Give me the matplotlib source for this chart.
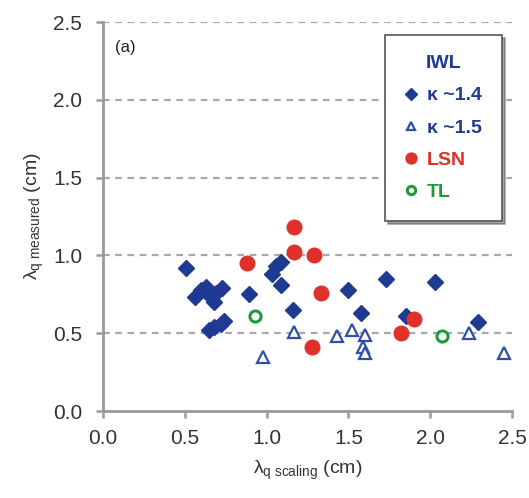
import numpy as np
import matplotlib.pyplot as plt

plt.rcParams['font.family'] = ['Liberation Sans', 'DejaVu Sans']
plt.rcParams['mathtext.fontset'] = 'custom'
plt.rcParams['mathtext.rm'] = 'Liberation Sans'
plt.rcParams['mathtext.it'] = 'Liberation Sans:italic'

# IWL, kappa ~1.4
k14_x = [0.51, 0.56, 0.60, 0.63, 0.66, 0.68, 0.69, 0.73, 0.65, 0.68, 0.72, 0.74,
         0.89, 1.03, 1.06, 1.09, 1.09, 1.16, 1.50, 1.58, 1.73, 1.85, 2.03, 2.29]
k14_y = [0.92, 0.73, 0.78, 0.80, 0.73, 0.70, 0.76, 0.79, 0.52, 0.54, 0.56, 0.58,
         0.75, 0.88, 0.93, 0.96, 0.81, 0.65, 0.78, 0.63, 0.85, 0.61, 0.83, 0.57]
# IWL, kappa ~1.5
k15_x = [0.98, 1.17, 1.43, 1.52, 1.60, 1.59, 1.60, 2.24, 2.45]
k15_y = [0.35, 0.51, 0.48, 0.52, 0.49, 0.41, 0.37, 0.50, 0.37]
# lower single null
lsn_x = [0.88, 1.17, 1.17, 1.29, 1.33, 1.28, 1.82, 1.90]
lsn_y = [0.95, 1.18, 1.02, 1.00, 0.76, 0.41, 0.50, 0.59]
# top limiter
tl_x = [0.93, 2.07]
tl_y = [0.61, 0.48]

navy = '#1f3a93'
tri_c = '#3050a8'
red = '#e0302a'
green = '#1e9a3c'
grey = '#9a9a9a'

fig = plt.figure(figsize=(5.29, 4.98), dpi=100)
ax = fig.add_axes([103/529, 1-411/498, 409/529, 389/498])

for yv in [0.5, 1.0, 1.5, 2.0, 2.5]:
    ax.axhline(yv, color='#a8a8a8', lw=1.6, ls=(0, (3, 2.5)), zorder=1)

ax.plot(k14_x, k14_y, 'D', ms=8, color=navy, mec=navy, zorder=3, label=u'\u03ba ~1.4')
ax.plot(k15_x, k15_y, '^', ms=8.5, mfc='white', mec=tri_c, mew=1.6, zorder=3, label=u'\u03ba ~1.5')
ax.plot(lsn_x, lsn_y, 'o', ms=10.5, color=red, zorder=4, label='LSN')
ax.plot(tl_x, tl_y, 'o', ms=8, mfc='white', mec=green, mew=2.2, zorder=4, label='TL')

ax.set_xlim(0, 2.5)
ax.set_ylim(0, 2.5)
ax.set_xticks(np.arange(0, 2.51, 0.5))
ax.set_yticks(np.arange(0, 2.51, 0.5))
ax.xaxis.set_major_formatter(plt.FormatStrFormatter('%.1f'))
ax.yaxis.set_major_formatter(plt.FormatStrFormatter('%.1f'))
for s in ['top', 'right']:
    ax.spines[s].set_visible(False)
for s in ['left', 'bottom']:
    ax.spines[s].set_color(grey)
    ax.spines[s].set_linewidth(2)
ax.tick_params(direction='out', length=5, width=1.8, color=grey,
               labelsize=15, labelcolor='#333333')
ax.tick_params(axis='x', pad=8)
ax.tick_params(axis='y', pad=10)

ax.set_xlabel(u'\u03bb$_{\\mathrm{q\\ scaling}}$ (cm)', fontsize=14, color='#333333', labelpad=8)
ax.set_ylabel(u'\u03bb$_{\\mathrm{q\\ measured}}$ (cm)', fontsize=14, color='#333333', labelpad=5)

ax.text(0.03, 0.955, '(a)', transform=ax.transAxes, fontsize=12, color='#222222', va='top')

leg = ax.legend(loc='upper right', bbox_to_anchor=(0.976, 0.967), title='IWL',
                frameon=True, fancybox=False, shadow=True, markerscale=0.75,
                handlelength=0.6, handletextpad=0.5, labelspacing=0.75,
                borderpad=1.05, borderaxespad=0, prop={'size': 14, 'weight': 'bold'},
                title_fontproperties={'size': 14, 'weight': 'bold'})
leg.get_title().set_color(navy)
leg.get_frame().set_edgecolor('#555555')
leg.get_frame().set_linewidth(1.2)
for t, c in zip(leg.get_texts(), [navy, navy, red, green]):
    t.set_color(c)

fig.savefig('out.png', dpi=100)
